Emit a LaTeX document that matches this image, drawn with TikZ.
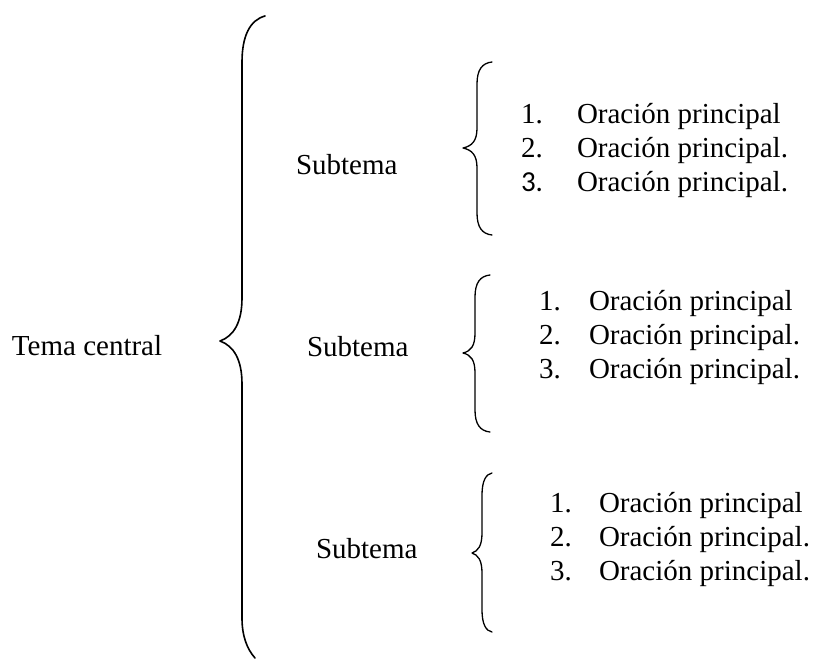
\documentclass[tikz,border=0pt]{standalone}
\usepackage{fontspec}
\setmainfont{Liberation Serif}
\newfontfamily\calibrifont{Carlito}
\begin{document}
\begin{tikzpicture}[x=1pt,y=-1pt,
  txt/.style={inner sep=0pt,outer sep=0pt,anchor=base west,font=\fontsize{29}{34}\selectfont},
  bracepath/.style={line width=1.6pt,line cap=round,line join=round},
  smallbrace/.style={line width=1.3pt,line cap=round,line join=round}]
\useasboundingbox (0,0) rectangle (814,659);
\fill[white] (0,0) rectangle (814,659);

% big brace
\draw[bracepath] (265,16) .. controls (250,20) and (242,36) .. (242,62) -- (242,298)
  .. controls (242,322) and (234,336) .. (220,341)
  .. controls (234,346) and (242,360) .. (242,384) -- (242,618)
  .. controls (242,636) and (247,649) .. (255,658);
\node[txt] (tema) at (12,355) {Tema central};

% group 1
\node[txt] (sub1) at (296,174) {Subtema};
\draw[smallbrace] (492,62) .. controls (482,63) and (477,70) .. (477,84) -- (477,128)
  .. controls (477,141) and (472,146) .. (463,148)
  .. controls (472,150) and (477,155) .. (477,168) -- (477,213)
  .. controls (477,227) and (482,234) .. (492,235);
\node[txt] (a1n) at (521,123) {1.};
\node[txt] (a1t) at (577,123) {Oración principal};
\node[txt] (a2n) at (521,157) {2.};
\node[txt] (a2t) at (577,157) {Oración principal.};
\node[txt] (a3n) at (521,191) {\calibrifont 3.};
\node[txt] (a3t) at (577,191) {Oración principal.};

% group 2
\node[txt] (sub2) at (307,356) {Subtema};
\draw[smallbrace] (490,275) .. controls (480,276) and (475,283) .. (475,297) -- (475,333)
  .. controls (475,346) and (471,351) .. (463,353)
  .. controls (471,355) and (475,360) .. (475,373) -- (475,410)
  .. controls (475,424) and (480,431) .. (490,432);
\node[txt] (b1n) at (539,310) {1.};
\node[txt] (b1t) at (589,310) {Oración principal};
\node[txt] (b2n) at (539,344) {2.};
\node[txt] (b2t) at (589,344) {Oración principal.};
\node[txt] (b3n) at (539,378) {3.};
\node[txt] (b3t) at (589,378) {Oración principal.};

% group 3
\node[txt] (sub3) at (316,558) {Subtema};
\draw[smallbrace] (492,473) .. controls (486,474) and (482,481) .. (482,495) -- (482,533)
  .. controls (482,546) and (478,551) .. (472,553)
  .. controls (478,555) and (482,560) .. (482,573) -- (482,610)
  .. controls (482,624) and (486,631) .. (492,632);
\node[txt] (c1n) at (550,512) {1.};
\node[txt] (c1t) at (599,512) {Oración principal};
\node[txt] (c2n) at (550,546) {2.};
\node[txt] (c2t) at (599,546) {Oración principal.};
\node[txt] (c3n) at (550,580) {3.};
\node[txt] (c3t) at (599,580) {Oración principal.};
\end{tikzpicture}
\end{document}
